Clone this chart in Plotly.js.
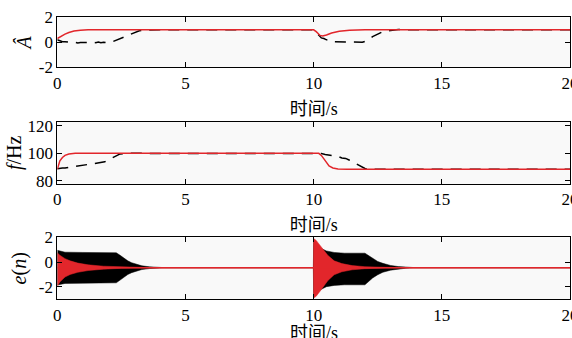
<!DOCTYPE html>
<html>
<head>
<meta charset="utf-8">
<script src="https://cdn.plot.ly/plotly-3.0.1.min.js"></script>
<style>html,body{margin:0;padding:0;background:#fff;}#chart{width:572px;height:338px;}</style>
</head>
<body>
<div id="chart"></div>
<script>
// ---- Panel 1: amplitude estimate A-hat ----
const tA_red = [0, 0.15, 0.3, 0.45, 0.65, 0.9, 1.2, 10.0, 10.1, 10.25, 10.35, 10.5, 10.7, 11.0, 11.4, 12.0, 20];
const A_red  = [0.3, 0.5, 0.65, 0.78, 0.9, 0.97, 1.0, 1.0, 0.85, 0.55, 0.5, 0.58, 0.74, 0.88, 0.97, 1.0, 1.0];
const tA_blk = [0, 0.1, 0.2, 0.3, 0.45, 0.6, 0.7, 0.8, 0.9, 1.0, 1.2, 1.4, 1.5, 1.6, 1.7, 1.8, 1.9, 2.1, 2.3, 2.5, 2.7, 2.85, 3.0, 3.2, 3.5, 3.8, 4.0,
                10.0, 10.1, 10.2, 10.3, 10.4, 10.5, 10.6, 10.7, 10.8, 11.0, 11.1, 11.2, 11.3, 11.4, 11.6, 11.9, 12.1, 12.3, 12.5, 12.7, 13.0, 13.3, 13.6, 20];
const A_blk  = [0.2, 0.12, 0.05, 0.05, 0, -0.03, 0, -0.05, -0.02, -0.04, -0.02, 0, -0.03, 0.02, -0.03, 0, -0.03, 0, 0.15, 0.33, 0.5, 0.64, 0.78, 0.92, 0.98, 1.02, 1.0,
                1.0, 0.8, 0.55, 0.35, 0.3, 0.2, 0.22, 0.1, 0.05, 0.05, 0.02, 0.06, 0.02, 0.06, 0.03, 0.0, 0.15, 0.45, 0.65, 0.85, 0.95, 1.03, 1.0, 1.0];

// ---- Panel 2: frequency estimate f/Hz ----
const tF_red = [0, 0.05, 0.1, 0.2, 0.3, 0.45, 0.7, 10.2, 10.3, 10.4, 10.5, 10.6, 10.75, 10.95, 11.3, 20];
const F_red  = [88.4, 92, 94.5, 97, 98.5, 99.5, 100, 100, 98.5, 96, 93, 90.8, 89.4, 88.7, 88.4, 88.4];
const tF_blk = [0, 0.1, 0.2, 0.3, 0.4, 0.55, 0.7, 0.85, 1.0, 1.15, 1.3, 1.45, 1.6, 1.75, 1.85, 1.95, 2.1, 2.25, 2.45, 2.7,
                10.2, 10.3, 10.45, 10.6, 10.75, 10.85, 10.95, 11.1, 11.25, 11.4, 11.55, 11.7, 11.85, 12.0, 12.2, 12.4, 20];
const F_blk  = [88.8, 89.2, 89.4, 89.3, 89.6, 89.8, 90.3, 91, 91.2, 91.6, 92, 92.3, 92.7, 93.5, 93.8, 94.8, 96.4, 98, 99.6, 100,
                100, 99.8, 99.2, 98.9, 98.3, 98.5, 97.8, 96.6, 96.3, 95, 93.5, 91.5, 90, 89, 88.3, 88.4, 88.4];

// ---- Panel 3: error e(n), oscillation envelopes ----
const tE_blk = [0, 0.3, 1.0, 1.8, 2.3, 2.45, 2.6, 2.75, 2.9, 3.1, 3.3, 3.6, 3.9, 4.2, 9.99, 10.0, 10.2, 10.5, 10.8, 11.2, 12.0, 12.1, 12.3, 12.5, 12.7, 13.0, 13.3, 13.6, 13.9, 20];
const E_blk_up = [0.95, 0.8, 0.78, 0.78, 0.75, 0.55, 0.3, 0.1, -0.05, -0.2, -0.3, -0.38, -0.42, -0.45, -0.45, 1.75, 1.2, 0.9, 0.78, 0.72, 0.72, 0.6, 0.3, 0.05, -0.1, -0.27, -0.36, -0.41, -0.44, -0.45];
const E_blk_lo = [-1.85, -1.72, -1.7, -1.7, -1.67, -1.45, -1.2, -1.0, -0.85, -0.7, -0.6, -0.52, -0.48, -0.45, -0.45, -2.8, -2.3, -1.98, -1.88, -1.83, -1.83, -1.62, -1.28, -1.02, -0.82, -0.65, -0.55, -0.49, -0.46, -0.45];
const tE_red = [0, 0.1, 0.3, 0.5, 0.8, 1.2, 1.8, 2.5, 3.5, 9.99, 10.0, 10.1, 10.25, 10.4, 10.55, 10.8, 11.1, 11.5, 12.0, 12.8, 13.5, 20];
const E_red_up = [0.75, 0.55, 0.28, 0.1, -0.08, -0.22, -0.33, -0.4, -0.44, -0.45, 1.9, 1.75, 1.35, 0.95, 0.55, 0.1, -0.12, -0.28, -0.37, -0.42, -0.45, -0.45];
const E_red_lo = [-1.95, -1.6, -1.2, -1.0, -0.82, -0.68, -0.57, -0.5, -0.46, -0.45, -2.9, -2.75, -2.35, -1.9, -1.5, -1.02, -0.78, -0.62, -0.53, -0.48, -0.45, -0.45];
const tE_mid = [0, 20];
const E_mid  = [-0.45, -0.45];

// ---- ticks / labels ----
const xTicks = [0, 5, 10, 15, 20];
const y1Ticks = [-2, 0, 2];   const y1Text = ['-2', '0', '2'];
const y2Ticks = [80, 100, 120]; const y2Text = ['80', '100', '120'];
const y3Ticks = [-2, 0, 2];   const y3Text = ['-2', '0', '2'];
const xTitle = '时间/s';
const y1Title = '<i>Â</i>';
const y2Title = '<i>f</i>/Hz';
const y3Title = '<i>e</i>(<i>n</i>)';

const RED = '#e2262b';
const FONT = 'Liberation Serif, Noto Sans CJK SC, serif';
const dashStyle = '11px,8px';

const traces = [
  {x: tA_blk, y: A_blk, xaxis: 'x', yaxis: 'y', mode: 'lines', line: {color: '#000', width: 1.5, dash: dashStyle}},
  {x: tA_red, y: A_red, xaxis: 'x', yaxis: 'y', mode: 'lines', line: {color: RED, width: 1.5}},
  {x: tF_blk, y: F_blk, xaxis: 'x2', yaxis: 'y2', mode: 'lines', line: {color: '#000', width: 1.5, dash: dashStyle}},
  {x: tF_red, y: F_red, xaxis: 'x2', yaxis: 'y2', mode: 'lines', line: {color: RED, width: 1.5}},
  {x: tE_blk, y: E_blk_lo, xaxis: 'x3', yaxis: 'y3', mode: 'lines', line: {color: '#000', width: 0.5}},
  {x: tE_blk, y: E_blk_up, xaxis: 'x3', yaxis: 'y3', mode: 'lines', line: {color: '#000', width: 0.5}, fill: 'tonexty', fillcolor: '#000'},
  {x: tE_red, y: E_red_lo, xaxis: 'x3', yaxis: 'y3', mode: 'lines', line: {color: RED, width: 0.5}},
  {x: tE_red, y: E_red_up, xaxis: 'x3', yaxis: 'y3', mode: 'lines', line: {color: RED, width: 0.5}, fill: 'tonexty', fillcolor: RED},
  {x: tE_mid, y: E_mid, xaxis: 'x3', yaxis: 'y3', mode: 'lines', line: {color: RED, width: 1.5}}
];

function xax(anchor, title, standoff) {
  return {
    domain: [0.1002, 0.9965], range: [0, 20], anchor: anchor,
    tickvals: xTicks, ticks: 'inside', ticklen: 5, tickcolor: '#000', tickwidth: 1,
    showline: true, linecolor: '#000', linewidth: 1, mirror: 'ticks',
    showgrid: false, zeroline: false, ticklabeloverflow: 'allow',
    tickfont: {family: FONT, size: 17, color: '#000'},
    title: {text: title, font: {family: FONT, size: 18, color: '#000'}, standoff: standoff}
  };
}
function yax(anchor, dom, rng, tv, tt, title, standoff) {
  return {
    domain: dom, range: rng, anchor: anchor,
    tickvals: tv, ticktext: tt, ticks: 'inside', ticklen: 5, tickcolor: '#000', tickwidth: 1,
    showline: true, linecolor: '#000', linewidth: 1, mirror: 'ticks',
    showgrid: false, zeroline: false, ticklabeloverflow: 'allow',
    tickfont: {family: FONT, size: 17, color: '#000'},
    title: {text: title, font: {family: FONT, size: 20, color: '#000'}, standoff: standoff}
  };
}

const layout = {
  width: 572, height: 338,
  margin: {l: 0, r: 0, t: 0, b: 0},
  paper_bgcolor: '#fff', plot_bgcolor: '#f9f9f9',
  showlegend: false,
  xaxis: xax('y', xTitle, 10), xaxis2: xax('y2', xTitle, 9), xaxis3: xax('y3', '', 10),
  yaxis: yax('x', [0.8009, 0.9488], [-2, 2], y1Ticks, y1Text, y1Title, 1),
  yaxis2: yax('x2', [0.4556, 0.6399], [77.7, 123], y2Ticks, y2Text, y2Title, 0),
  yaxis3: yax('x3', [0.1145, 0.2979], [-3, 2], y3Ticks, y3Text, y3Title, 6),
  annotations: [{
    text: xTitle, xref: 'paper', yref: 'paper', x: (0.1002 + 0.9965) / 2, y: 0.015,
    xanchor: 'center', yanchor: 'middle', showarrow: false,
    font: {family: FONT, size: 18, color: '#000'}
  }]
};

Plotly.newPlot('chart', traces, layout, {staticPlot: true, displayModeBar: false});
</script>
</body>
</html>
